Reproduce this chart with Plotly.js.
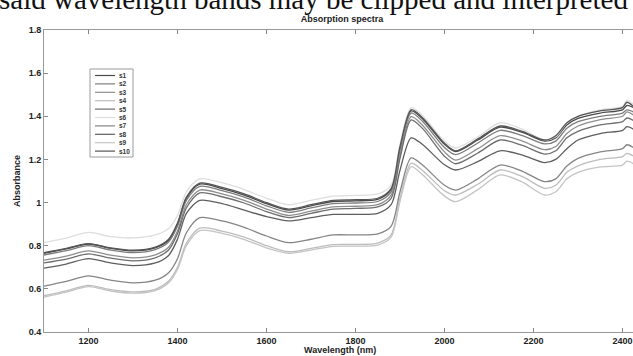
<!DOCTYPE html>
<html><head><meta charset="utf-8">
<script src="https://cdn.plot.ly/plotly-3.0.1.min.js"></script>
<style>html,body{margin:0;padding:0;overflow:hidden;background:#fff}#chart{width:680px;height:356px}</style>
</head><body><div id="chart"></div>
<script>
const wavelength = [1100,1150,1200,1250,1300,1350,1380,1400,1420,1450,1500,1550,1600,1650,1700,1750,1800,1850,1880,1900,1925,1950,2000,2025,2075,2125,2175,2225,2250,2275,2300,2350,2400,2410,2425];
const seriesNames = ['s1','s2','s3','s4','s5','s6','s7','s8','s9','s10'];
const seriesColors = ['#4a4a4a','#7c7c7c','#8e8e8e','#bdbdbd','#6e6e6e','#dedede','#858585','#5e5e5e','#c4c4c4','#555555'];
const s1 = [0.765,0.785,0.808,0.788,0.776,0.790,0.825,0.900,1.020,1.085,1.065,1.035,0.995,0.965,0.985,1.005,1.008,1.015,1.060,1.250,1.425,1.390,1.270,1.236,1.290,1.350,1.325,1.285,1.300,1.360,1.390,1.415,1.430,1.450,1.440];
const s2 = [0.757,0.777,0.800,0.780,0.768,0.782,0.817,0.890,1.010,1.075,1.055,1.025,0.985,0.955,0.975,0.995,0.998,1.005,1.050,1.240,1.415,1.378,1.255,1.222,1.276,1.335,1.310,1.272,1.285,1.345,1.375,1.400,1.415,1.430,1.420];
const s3 = [0.733,0.752,0.776,0.756,0.744,0.758,0.793,0.868,0.990,1.058,1.040,1.010,0.970,0.940,0.960,0.980,0.983,0.990,1.035,1.220,1.398,1.360,1.235,1.197,1.250,1.310,1.285,1.245,1.260,1.320,1.355,1.385,1.400,1.420,1.405];
const s4 = [0.568,0.591,0.616,0.596,0.586,0.598,0.636,0.700,0.812,0.882,0.868,0.840,0.800,0.772,0.788,0.805,0.806,0.812,0.850,1.020,1.182,1.150,1.055,1.035,1.085,1.151,1.120,1.066,1.080,1.140,1.170,1.200,1.213,1.228,1.215];
const s5 = [0.720,0.738,0.762,0.742,0.730,0.744,0.780,0.855,0.975,1.045,1.027,0.998,0.958,0.930,0.950,0.970,0.973,0.980,1.020,1.205,1.383,1.345,1.215,1.180,1.230,1.290,1.265,1.225,1.240,1.300,1.330,1.360,1.375,1.392,1.380];
const s6 = [0.814,0.835,0.862,0.842,0.836,0.850,0.880,0.940,1.050,1.110,1.092,1.060,1.020,0.990,1.010,1.030,1.033,1.040,1.080,1.270,1.440,1.405,1.285,1.253,1.305,1.370,1.340,1.290,1.305,1.370,1.400,1.430,1.445,1.475,1.455];
const s7 = [0.613,0.635,0.660,0.640,0.628,0.640,0.675,0.740,0.860,0.930,0.915,0.885,0.845,0.814,0.830,0.850,0.850,0.855,0.890,1.050,1.207,1.175,1.080,1.058,1.110,1.174,1.145,1.097,1.110,1.170,1.205,1.235,1.250,1.268,1.255];
const s8 = [0.696,0.715,0.740,0.720,0.708,0.720,0.755,0.830,0.950,1.010,0.995,0.965,0.935,0.915,0.930,0.945,0.945,0.950,0.990,1.150,1.300,1.270,1.175,1.151,1.190,1.240,1.220,1.185,1.200,1.250,1.290,1.320,1.335,1.352,1.340];
const s9 = [0.562,0.585,0.610,0.590,0.580,0.592,0.628,0.690,0.800,0.870,0.857,0.828,0.790,0.765,0.780,0.797,0.798,0.803,0.840,1.005,1.166,1.130,1.030,1.004,1.060,1.128,1.095,1.035,1.050,1.110,1.140,1.165,1.174,1.192,1.180];
const s10 = [0.768,0.788,0.810,0.790,0.779,0.793,0.830,0.905,1.025,1.090,1.070,1.040,1.000,0.970,0.990,1.010,1.013,1.020,1.065,1.260,1.430,1.395,1.275,1.240,1.295,1.355,1.330,1.290,1.310,1.370,1.400,1.425,1.440,1.465,1.445];
const allSeries = [s1,s2,s3,s4,s5,s6,s7,s8,s9,s10];
const xTicks = [1200,1400,1600,1800,2000,2200,2400];
const yTicks = [0.4,0.6,0.8,1,1.2,1.4,1.6,1.8];

const traces = allSeries.map((ys,i)=>({
  x: wavelength, y: ys, type:'scatter', mode:'lines', name: seriesNames[i],
  line:{color: seriesColors[i], width:1.3, shape:'spline', smoothing:0.8},
  showlegend:false, hoverinfo:'skip'
}));

const tickFont = {family:'Liberation Sans, Arial, sans-serif', size:9, color:'#222', weight:'bold'};
const plotW = 623, plotH = 302, L = 44, T = 30;
const px = v => (v - L)/plotW;
const py = v => (T + plotH - v)/plotH;
const shapes = [{type:'rect', xref:'paper', yref:'paper', x0:px(90), x1:px(133), y0:py(157), y1:py(69), line:{color:'#9a9a9a', width:1}, fillcolor:'#fff', layer:'above'}];
const annotations = [];
seriesNames.forEach((nm,i)=>{
  const yy = 75.5 + i*8.4;
  shapes.push({type:'line', xref:'paper', yref:'paper', x0:px(95), x1:px(115), y0:py(yy), y1:py(yy), line:{color:seriesColors[i], width:1.2}, layer:'above'});
  annotations.push({xref:'paper', yref:'paper', x:px(117), y:py(yy), xanchor:'left', yanchor:'middle', text:nm, showarrow:false, font:{family:'Liberation Sans, Arial, sans-serif', size:6.5, color:'#333', weight:'bold'}});
});
annotations.push({xref:'paper', yref:'paper', x:px(-3), y:py(17), xanchor:'left', yanchor:'bottom', text:'said wavelength bands may be clipped and interpreted', showarrow:false, font:{family:'Liberation Serif, Times New Roman, serif', size:29, color:'#111'}});
annotations.push({xref:'paper', yref:'paper', x:px(340), y:py(350), xanchor:'center', yanchor:'middle', text:'Wavelength (nm)', showarrow:false, font:{family:'Liberation Sans, Arial, sans-serif', size:9, color:'#222', weight:'bold'}});
annotations.push({xref:'paper', yref:'paper', x:px(17), y:py(181), xanchor:'center', yanchor:'middle', text:'Absorbance', textangle:-90, showarrow:false, font:{family:'Liberation Sans, Arial, sans-serif', size:9, color:'#222', weight:'bold'}});

const layout = {
  width:680, height:356,
  margin:{l:44, r:13, t:30, b:24},
  paper_bgcolor:'#fff', plot_bgcolor:'#fff',
  title:{text:'Absorption spectra', x:342/680, xanchor:'center', y:1-19/356, yanchor:'middle', font:{family:'Liberation Sans, Arial, sans-serif', size:9, color:'#222', weight:'bold'}},
  xaxis:{range:[1100,2500], tickvals:xTicks, ticktext:xTicks.map(String), ticks:'inside', ticklen:4, tickcolor:'#888', showline:true, linecolor:'#999', linewidth:1, mirror:'ticks', showgrid:false, zeroline:false, tickfont:tickFont},
  yaxis:{range:[0.4,1.8], tickvals:yTicks, ticktext:yTicks.map(String), ticks:'inside', ticklen:4, tickcolor:'#888', showline:true, linecolor:'#999', linewidth:1, mirror:'ticks', showgrid:false, zeroline:false, tickfont:tickFont},
  shapes: shapes, annotations: annotations, showlegend:false
};
Plotly.newPlot('chart', traces, layout, {staticPlot:true, displayModeBar:false});
</script></body></html>
